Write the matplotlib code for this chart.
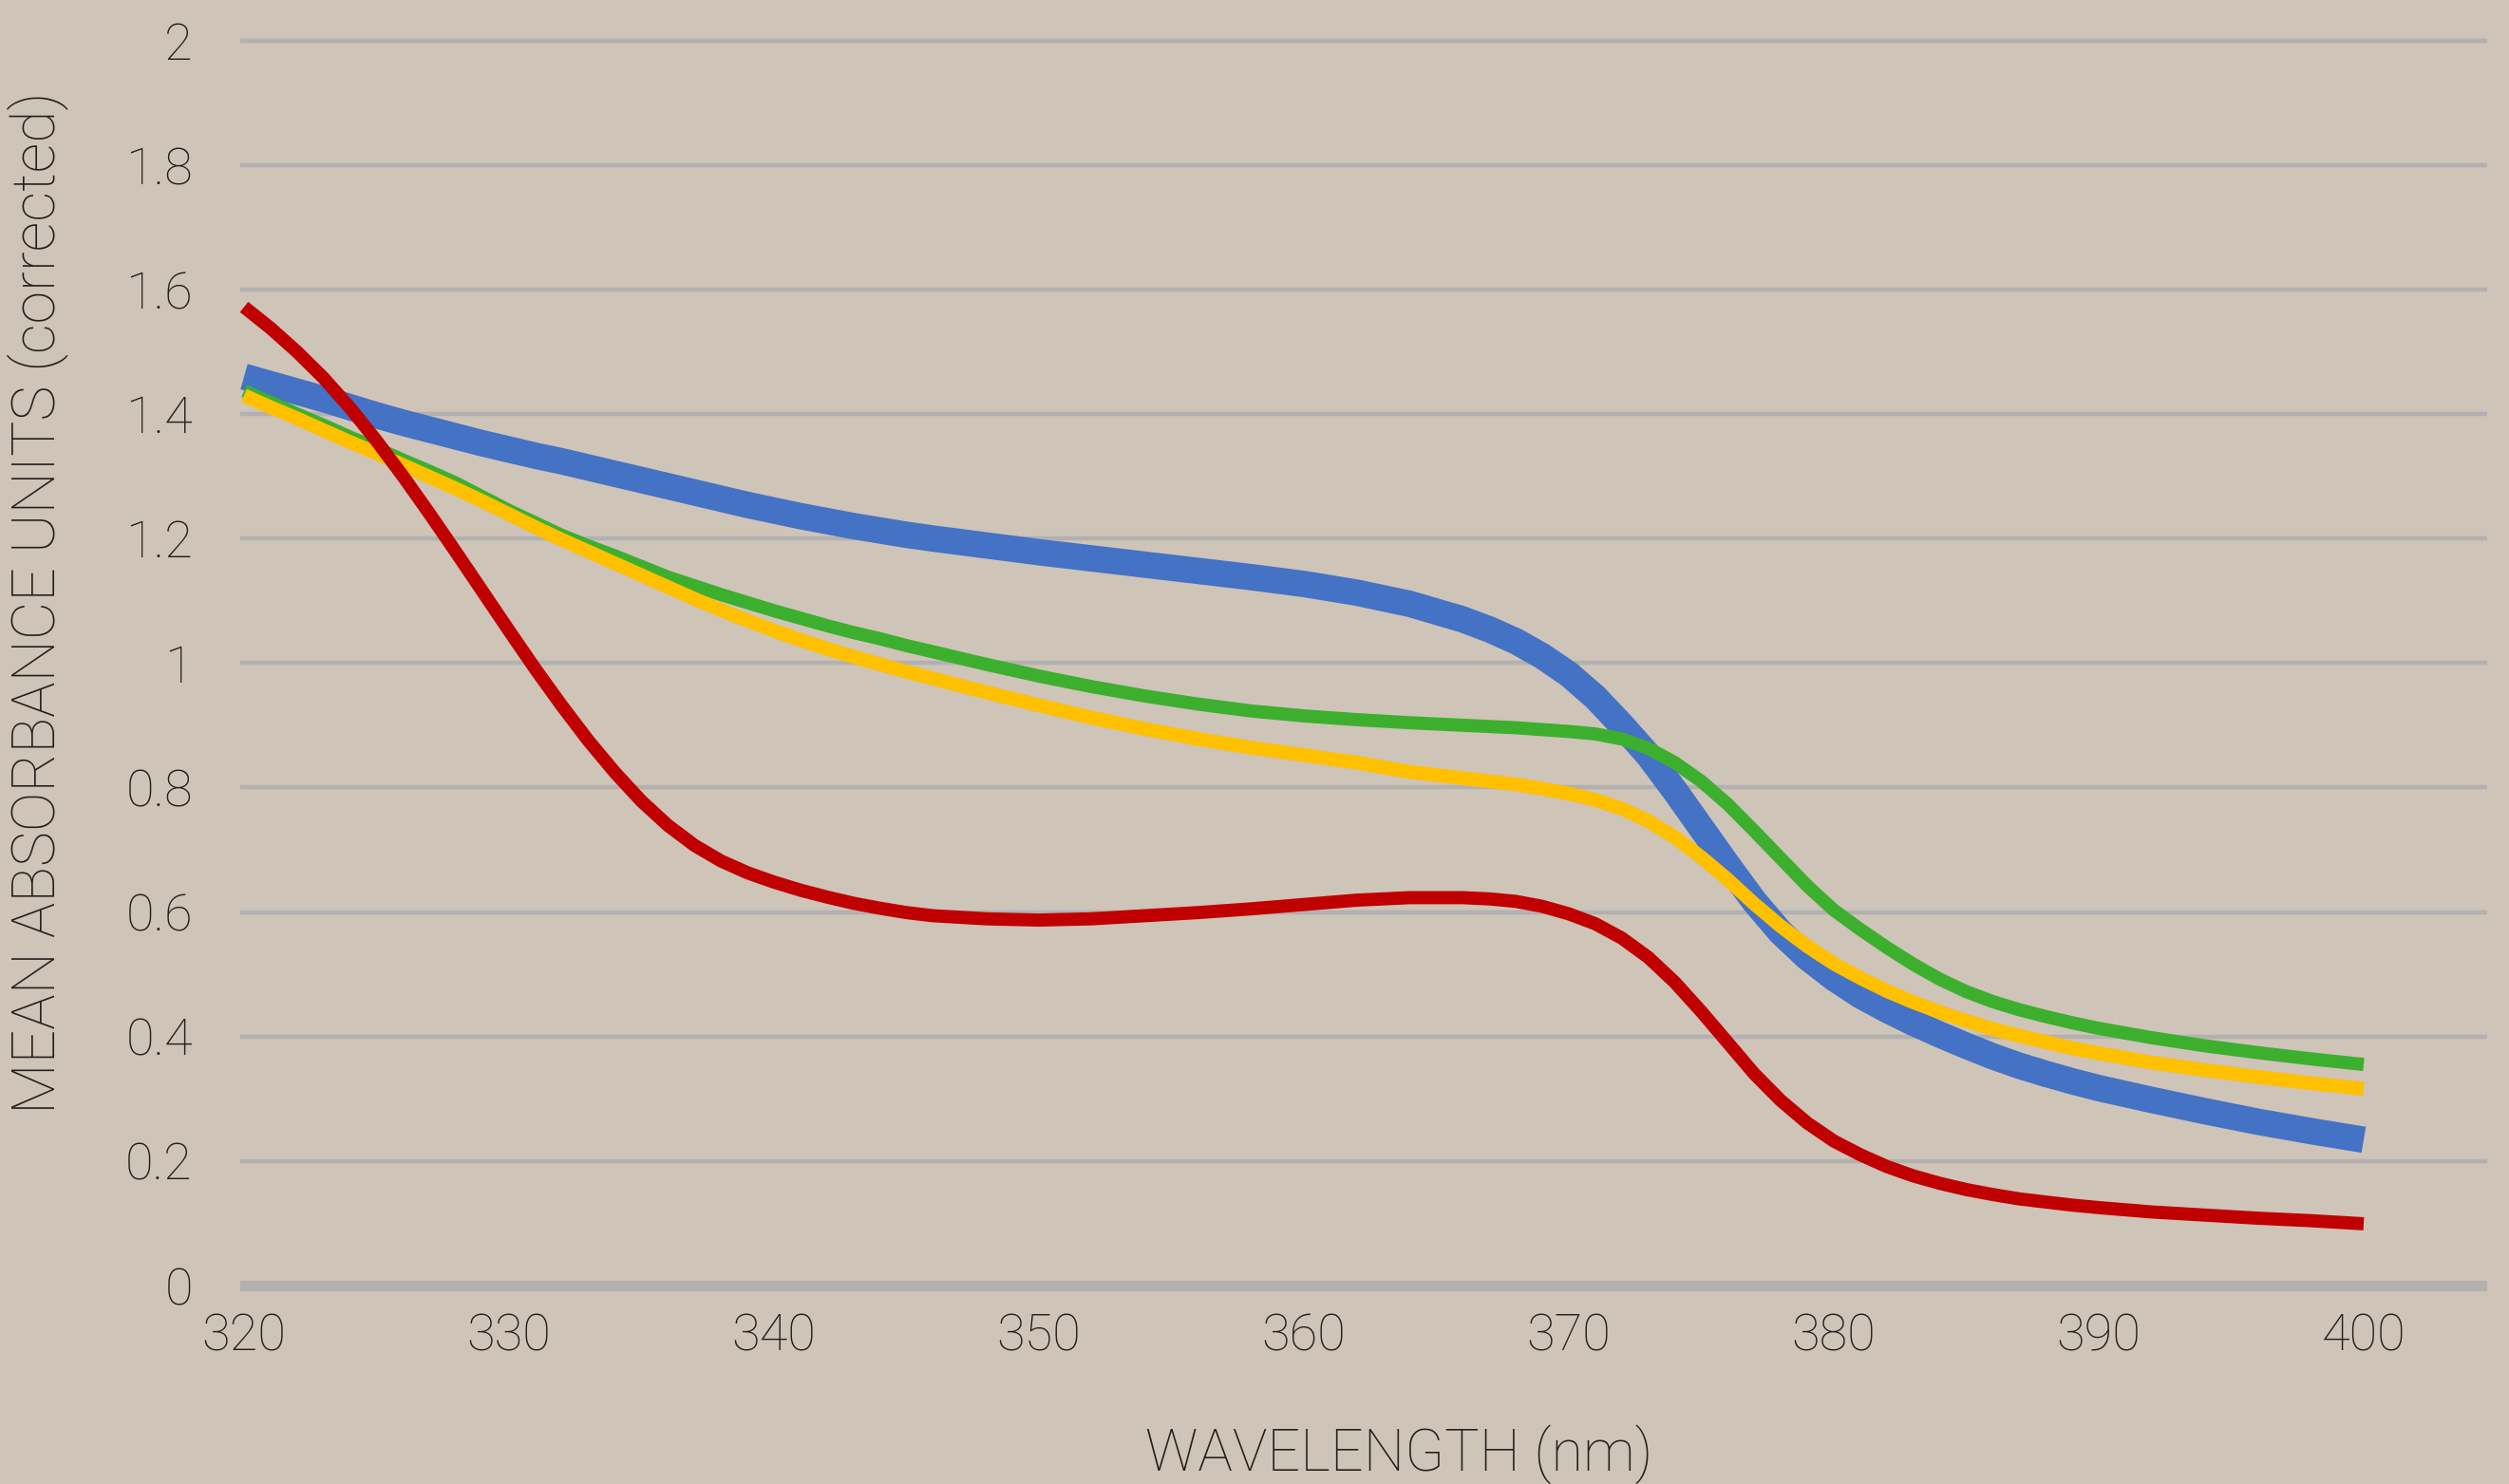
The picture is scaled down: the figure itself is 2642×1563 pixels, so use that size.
import matplotlib.pyplot as plt

wavelength = [320, 321, 322, 323, 324, 325, 326, 327, 328, 329, 330, 331, 332, 333,
              334, 335, 336, 337, 338, 339, 340, 341, 342, 343, 344, 345, 346,
              348, 350, 352, 354, 356, 358, 360, 362, 364, 366,
              367, 368, 369, 370, 371, 372, 373, 374, 375, 376, 377, 378, 379, 380,
              381, 382, 383, 384, 385, 386, 387, 388, 389, 390,
              392, 394, 396, 398, 400]

blue = [1.46, 1.448, 1.436, 1.424, 1.411, 1.398, 1.386, 1.375, 1.364, 1.353, 1.343,
        1.333, 1.324, 1.314, 1.304, 1.294, 1.284, 1.274, 1.264, 1.254, 1.245, 1.236,
        1.228, 1.22, 1.213, 1.206, 1.2,
        1.189, 1.178, 1.168, 1.158, 1.148, 1.138, 1.127, 1.113, 1.095, 1.07,
        1.054, 1.035, 1.011, 0.982, 0.945, 0.9, 0.852, 0.795, 0.735, 0.675, 0.617,
        0.567, 0.527, 0.494, 0.466, 0.443, 0.422, 0.403, 0.385, 0.368, 0.353, 0.34,
        0.328, 0.317,
        0.298, 0.28, 0.263, 0.248, 0.234]

green = [1.437, 1.419, 1.40, 1.382, 1.363, 1.345, 1.326, 1.308, 1.289, 1.267, 1.245,
         1.225, 1.205, 1.188, 1.172, 1.155, 1.138, 1.124, 1.11, 1.097, 1.084, 1.072,
         1.06, 1.049, 1.039, 1.028, 1.018,
         0.998, 0.979, 0.962, 0.947, 0.934, 0.923, 0.915, 0.909, 0.904, 0.90,
         0.898, 0.896, 0.893, 0.89, 0.886, 0.878, 0.863, 0.84, 0.81, 0.773, 0.73,
         0.686, 0.642, 0.603, 0.572, 0.543, 0.516, 0.492, 0.472, 0.456, 0.443, 0.432,
         0.422, 0.413,
         0.398, 0.385, 0.374, 0.364, 0.355]

yellow = [1.43, 1.411, 1.393, 1.374, 1.355, 1.337, 1.318, 1.299, 1.28, 1.26, 1.239,
          1.218, 1.198, 1.179, 1.16, 1.141, 1.122, 1.103, 1.085, 1.068, 1.052, 1.037,
          1.023, 1.01, 0.998, 0.986, 0.975,
          0.953, 0.932, 0.912, 0.894, 0.878, 0.864, 0.852, 0.84, 0.825, 0.815,
          0.81, 0.805, 0.798, 0.79, 0.78, 0.766, 0.746, 0.72, 0.688, 0.652, 0.613,
          0.577, 0.545, 0.517, 0.494, 0.473, 0.455, 0.439, 0.425, 0.412, 0.401, 0.391,
          0.381, 0.373,
          0.358, 0.346, 0.335, 0.325, 0.316]

red = [1.572, 1.538, 1.50, 1.458, 1.41, 1.357, 1.30, 1.24, 1.178, 1.115, 1.052,
       0.99, 0.931, 0.875, 0.824, 0.778, 0.739, 0.707, 0.682, 0.663, 0.648, 0.635,
       0.624, 0.614, 0.606, 0.599, 0.594,
       0.589, 0.587, 0.589, 0.594, 0.599, 0.605, 0.612, 0.619, 0.623, 0.623,
       0.621, 0.617, 0.609, 0.597, 0.581, 0.558, 0.527, 0.487, 0.44, 0.39, 0.34,
       0.297, 0.261, 0.232, 0.21, 0.191, 0.176, 0.164, 0.154, 0.146, 0.139, 0.134,
       0.129, 0.125,
       0.118, 0.113, 0.108, 0.104, 0.099]

xticks = [320, 330, 340, 350, 360, 370, 380, 390, 400]
yticks = [0, 0.2, 0.4, 0.6, 0.8, 1.0, 1.2, 1.4, 1.6, 1.8, 2.0]
ytick_labels = ['0', '0.2', '0.4', '0.6', '0.8', '1', '1.2', '1.4', '1.6', '1.8', '2']

bg = '#cec4b8'
grid_col = '#b2b1b0'
text_col = '#231f1c'

plt.rcParams['font.family'] = ['Roboto', 'DejaVu Sans']

fig = plt.figure(figsize=(26.42, 15.63), dpi=100, facecolor=bg)
ax = fig.add_axes([0.09576, 0.12124, 0.89553, 0.86398])
ax.set_facecolor(bg)

for y in yticks[1:]:
    ax.axhline(y, color=grid_col, lw=3.2, zorder=1)
ax.axhline(0, color=grid_col, lw=8, zorder=1)

ax.plot(wavelength, blue, color='#4472c4', lw=20, solid_capstyle='butt',
        solid_joinstyle='round', zorder=2)
ax.plot(wavelength, green, color='#3daf2f', lw=10, solid_capstyle='butt',
        solid_joinstyle='round', zorder=3)
ax.plot(wavelength, yellow, color='#ffc000', lw=10.5, solid_capstyle='butt',
        solid_joinstyle='round', zorder=4)
ax.plot(wavelength, red, color='#c00000', lw=10, solid_capstyle='butt',
        solid_joinstyle='round', zorder=5)

ax.set_xlim(319.857, 404.66)
ax.set_ylim(-0.03, 2.03)
ax.set_xticks(xticks)
ax.set_xticklabels([str(t) for t in xticks], fontsize=39, fontweight='light', color=text_col)
ax.set_yticks(yticks)
ax.set_yticklabels(ytick_labels, fontsize=39, fontweight='light', color=text_col)
ax.tick_params(length=0)
ax.tick_params(axis='y', pad=36)
ax.tick_params(axis='x', pad=6)
for s in ax.spines.values():
    s.set_visible(False)

ax.set_xlabel('WAVELENGTH (nm)', fontsize=44, fontweight='light', color=text_col)
ax.set_ylabel('MEAN ABSORBANCE UNITS (corrected)', fontsize=45, fontweight='light', color=text_col)
ax.xaxis.set_label_coords(0.5156, -0.0937)
ax.yaxis.set_label_coords(-0.0765, 0.547)

fig.savefig('out.png', dpi=100, facecolor=bg)
